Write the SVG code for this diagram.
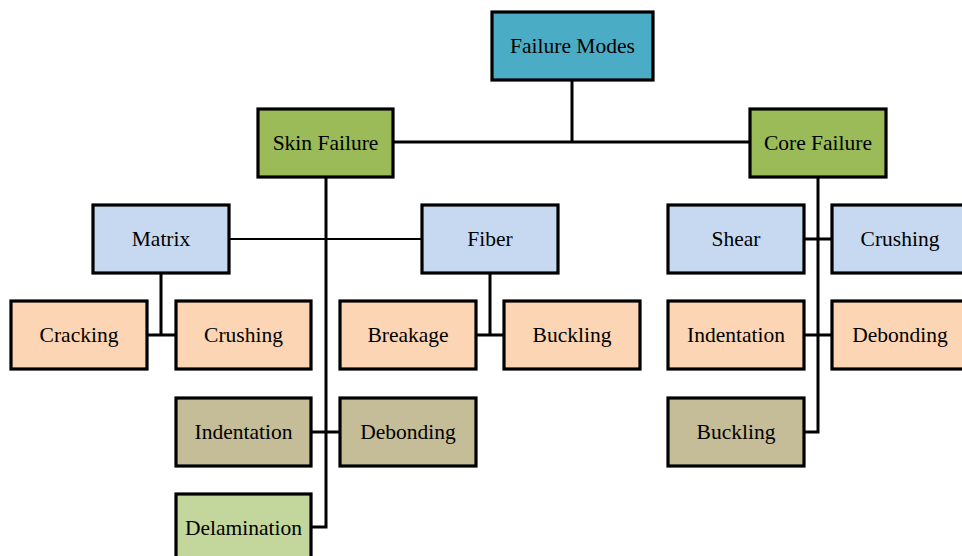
<svg xmlns="http://www.w3.org/2000/svg" width="962" height="556" viewBox="0 0 962 556">
<style>
.b{stroke:#000;stroke-width:3.2}
.t{font-family:"Liberation Serif","DejaVu Serif",serif;font-size:21.5px;text-anchor:middle;dominant-baseline:central;fill:#000}
.c{fill:none;stroke:#000;stroke-width:3}
.c2{fill:none;stroke:#000;stroke-width:2.2}
.root{fill:#4BACC6}.l1{fill:#9BBB59}.l2{fill:#C6D9F1}.l3{fill:#FCD5B4}.l4{fill:#C4BD97}.l5{fill:#C3D69B}
</style>
<rect width="962" height="556" fill="#fff"/>
<g id="connectors">
<path class="c" d="M572 80V142M393 142H750"/>
<path class="c" d="M326 177V527H311"/>
<path class="c2" d="M229 239H422"/>
<path class="c" d="M161 273V335M147 335H176"/>
<path class="c" d="M490 273V335M476 335H504"/>
<path class="c" d="M311 432H340"/>
<path class="c" d="M818 177V432H804"/>
<path class="c" d="M804 239H832M804 335H832"/>
</g>
<g id="failure-modes"><rect class="b root" x="492" y="12" width="161" height="68"/><text class="t" x="572.5" y="46">Failure Modes</text></g>
<g id="skin-failure"><rect class="b l1" x="258" y="109" width="135" height="68"/><text class="t" x="325.5" y="143">Skin Failure</text></g>
<g id="core-failure"><rect class="b l1" x="750" y="109" width="136" height="68"/><text class="t" x="818" y="143">Core Failure</text></g>
<g id="matrix"><rect class="b l2" x="93" y="205" width="136" height="68"/><text class="t" x="161" y="239">Matrix</text></g>
<g id="fiber"><rect class="b l2" x="422" y="205" width="136" height="68"/><text class="t" x="490" y="239">Fiber</text></g>
<g id="cracking"><rect class="b l3" x="11" y="301" width="136" height="68"/><text class="t" x="79" y="335">Cracking</text></g>
<g id="crushing-matrix"><rect class="b l3" x="176" y="301" width="135" height="68"/><text class="t" x="243.5" y="335">Crushing</text></g>
<g id="breakage"><rect class="b l3" x="340" y="301" width="136" height="68"/><text class="t" x="408" y="335">Breakage</text></g>
<g id="buckling-fiber"><rect class="b l3" x="504" y="301" width="136" height="68"/><text class="t" x="572" y="335">Buckling</text></g>
<g id="indentation-skin"><rect class="b l4" x="176" y="398" width="135" height="68"/><text class="t" x="243.5" y="432">Indentation</text></g>
<g id="debonding-skin"><rect class="b l4" x="340" y="398" width="136" height="68"/><text class="t" x="408" y="432">Debonding</text></g>
<g id="delamination"><rect class="b l5" x="176" y="494" width="135" height="68"/><text class="t" x="243.5" y="528">Delamination</text></g>
<g id="shear"><rect class="b l2" x="668" y="205" width="136" height="68"/><text class="t" x="736" y="239">Shear</text></g>
<g id="crushing-core"><rect class="b l2" x="832" y="205" width="136" height="68"/><text class="t" x="900" y="239">Crushing</text></g>
<g id="indentation-core"><rect class="b l3" x="668" y="301" width="136" height="68"/><text class="t" x="736" y="335">Indentation</text></g>
<g id="debonding-core"><rect class="b l3" x="832" y="301" width="136" height="68"/><text class="t" x="900" y="335">Debonding</text></g>
<g id="buckling-core"><rect class="b l4" x="668" y="398" width="136" height="68"/><text class="t" x="736" y="432">Buckling</text></g>
</svg>
